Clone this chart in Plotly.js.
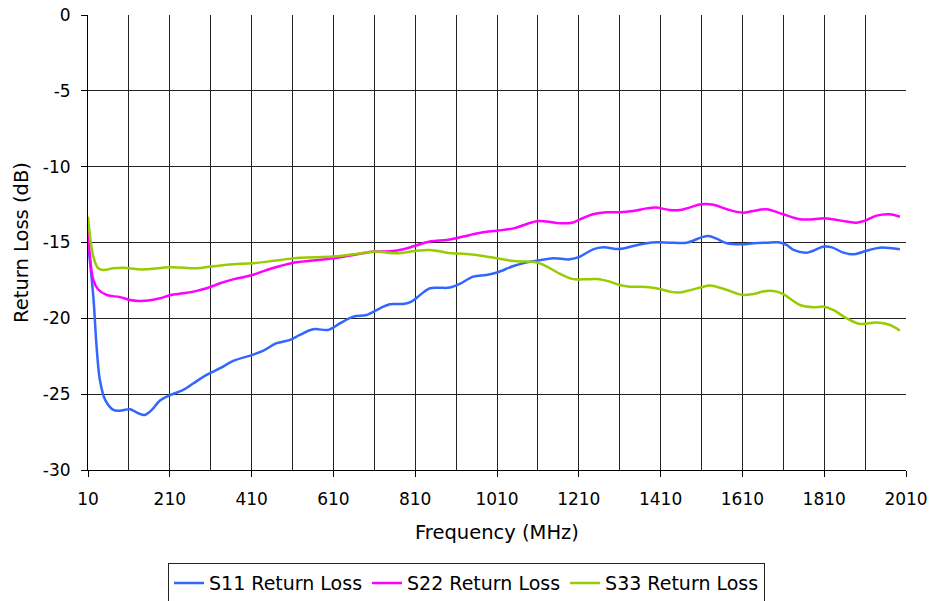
<!DOCTYPE html>
<html>
<head>
<meta charset="utf-8">
<script src="https://cdn.plot.ly/plotly-3.0.1.min.js"></script>
<style>html,body{margin:0;padding:0;background:#fff;}#chart{width:933px;height:601px;}</style>
</head>
<body>
<div id="chart"></div>
<script>
const s11Freq = [10, 23, 31, 39, 52, 72, 92, 113, 133, 149, 166, 186, 212, 243, 268, 300, 333, 365, 412, 439, 471, 504, 528, 561, 598, 626, 659, 691, 724, 748, 781, 801, 822, 846, 870, 895, 919, 952, 984, 1010, 1050, 1083, 1110, 1148, 1188, 1213, 1245, 1270, 1310, 1343, 1376, 1400, 1433, 1474, 1510, 1527, 1547, 1572, 1610, 1637, 1669, 1698, 1718, 1735, 1767, 1810, 1829, 1857, 1881, 1914, 1946, 1995];
const s11Loss = [-15.0, -18.57, -21.86, -24.06, -25.38, -26.04, -26.08, -25.99, -26.26, -26.37, -26.04, -25.42, -25.05, -24.72, -24.28, -23.73, -23.29, -22.81, -22.41, -22.13, -21.64, -21.42, -21.09, -20.72, -20.76, -20.33, -19.89, -19.78, -19.34, -19.07, -19.05, -18.9, -18.46, -18.02, -17.99, -17.97, -17.73, -17.25, -17.14, -16.98, -16.55, -16.31, -16.19, -16.04, -16.11, -15.93, -15.45, -15.32, -15.43, -15.23, -15.05, -14.99, -15.01, -15.01, -14.66, -14.57, -14.75, -15.05, -15.12, -15.05, -15.01, -14.99, -15.16, -15.49, -15.67, -15.27, -15.32, -15.67, -15.78, -15.54, -15.34, -15.45];

const s22Freq = [10, 23, 35, 56, 88, 113, 133, 166, 186, 212, 243, 276, 300, 333, 365, 412, 447, 480, 512, 561, 610, 659, 711, 750, 781, 810, 846, 887, 910, 944, 976, 1010, 1050, 1083, 1110, 1131, 1164, 1193, 1213, 1245, 1278, 1310, 1343, 1376, 1400, 1433, 1457, 1474, 1510, 1539, 1572, 1610, 1637, 1669, 1710, 1751, 1783, 1810, 1832, 1865, 1889, 1910, 1938, 1971, 1995];
const s22Loss = [-14.1, -17.47, -18.1, -18.46, -18.6, -18.79, -18.85, -18.79, -18.68, -18.46, -18.35, -18.19, -18.02, -17.69, -17.43, -17.14, -16.81, -16.55, -16.33, -16.19, -16.04, -15.82, -15.6, -15.58, -15.45, -15.21, -14.94, -14.83, -14.72, -14.5, -14.33, -14.22, -14.07, -13.78, -13.58, -13.62, -13.73, -13.7, -13.47, -13.14, -13.01, -13.01, -12.92, -12.75, -12.7, -12.86, -12.86, -12.75, -12.48, -12.51, -12.81, -13.03, -12.92, -12.81, -13.14, -13.47, -13.47, -13.4, -13.47, -13.62, -13.69, -13.56, -13.23, -13.14, -13.3];

const s33Freq = [10, 23, 35, 47, 72, 96, 133, 153, 212, 276, 310, 365, 412, 480, 528, 610, 659, 711, 764, 810, 846, 887, 936, 976, 1010, 1050, 1083, 1110, 1140, 1164, 1193, 1221, 1254, 1286, 1310, 1335, 1376, 1408, 1433, 1457, 1474, 1510, 1531, 1572, 1610, 1637, 1669, 1694, 1710, 1751, 1783, 1810, 1832, 1865, 1897, 1938, 1971, 1995];
const s33Loss = [-13.3, -15.93, -16.7, -16.81, -16.7, -16.66, -16.77, -16.77, -16.63, -16.7, -16.59, -16.44, -16.37, -16.15, -16.0, -15.93, -15.78, -15.6, -15.71, -15.56, -15.49, -15.67, -15.76, -15.89, -16.04, -16.22, -16.26, -16.33, -16.7, -17.07, -17.4, -17.43, -17.41, -17.58, -17.8, -17.91, -17.93, -18.06, -18.24, -18.3, -18.2, -17.95, -17.84, -18.13, -18.46, -18.39, -18.19, -18.24, -18.41, -19.12, -19.27, -19.23, -19.45, -20.0, -20.37, -20.28, -20.44, -20.81];

const xTickVals = [10, 210, 410, 610, 810, 1010, 1210, 1410, 1610, 1810, 2010];
const xTickText = ['10', '210', '410', '610', '810', '1010', '1210', '1410', '1610', '1810', '2010'];
const yTickVals = [0, -5, -10, -15, -20, -25, -30];
const yTickText = ['0', '-5', '-10', '-15', '-20', '-25', '-30'];
const seriesNames = ['S11 Return Loss', 'S22 Return Loss', 'S33 Return Loss'];
const seriesColors = ['#3366FF', '#FF00FF', '#99CC00'];

const FONT = 'Verdana, "DejaVu Sans", sans-serif';
const xs = [s11Freq, s22Freq, s33Freq];
const ys = [s11Loss, s22Loss, s33Loss];
const traces = xs.map((x, i) => ({
  x: x, y: ys[i], type: 'scatter', mode: 'lines', name: seriesNames[i],
  line: {color: seriesColors[i], width: 2.5, shape: 'spline', smoothing: 1}
}));

const layout = {
  width: 933, height: 601,
  margin: {l: 88, r: 27, t: 15, b: 131, autoexpand: false},
  paper_bgcolor: '#fff', plot_bgcolor: '#fff',
  font: {family: FONT, size: 17, color: '#000'},
  showlegend: true,
  legend: {orientation: 'h', xref: 'container', yref: 'container', x: 0.5, xanchor: 'center', y: 0.063, yanchor: 'top',
    bordercolor: '#222', borderwidth: 1, font: {family: FONT, size: 19, color: '#000'},
    itemwidth: 30, tracegroupgap: 0},
  xaxis: {
    range: [10, 2010], tickmode: 'array', tickvals: xTickVals, ticktext: xTickText,
    ticks: 'outside', ticklen: 6, tickcolor: '#000', ticklabelstandoff: 8,
    showgrid: true, gridcolor: '#222', gridwidth: 1,
    minor: {tickmode: 'linear', tick0: 10, dtick: 100, showgrid: true, gridcolor: '#222', gridwidth: 1, ticks: ''},
    showline: true, linecolor: '#000', linewidth: 1, zeroline: false, automargin: false,
    title: {text: 'Frequency (MHz)', font: {family: FONT, size: 19.5, color: '#000'}, standoff: 16},
    tickfont: {family: FONT, size: 17, color: '#000'}
  },
  yaxis: {
    range: [-30, 0], tickmode: 'array', tickvals: yTickVals, ticktext: yTickText,
    ticks: 'outside', ticklen: 6, tickcolor: '#000', ticklabelstandoff: 7,
    showgrid: true, gridcolor: '#222', gridwidth: 1,
    showline: true, linecolor: '#000', linewidth: 1, zeroline: false, automargin: false,
    title: {text: 'Return Loss (dB)', font: {family: FONT, size: 19.5, color: '#000'}, standoff: 8},
    tickfont: {family: FONT, size: 17, color: '#000'}
  }
};

Plotly.newPlot('chart', traces, layout, {displayModeBar: false, staticPlot: true});
</script>
</body>
</html>
